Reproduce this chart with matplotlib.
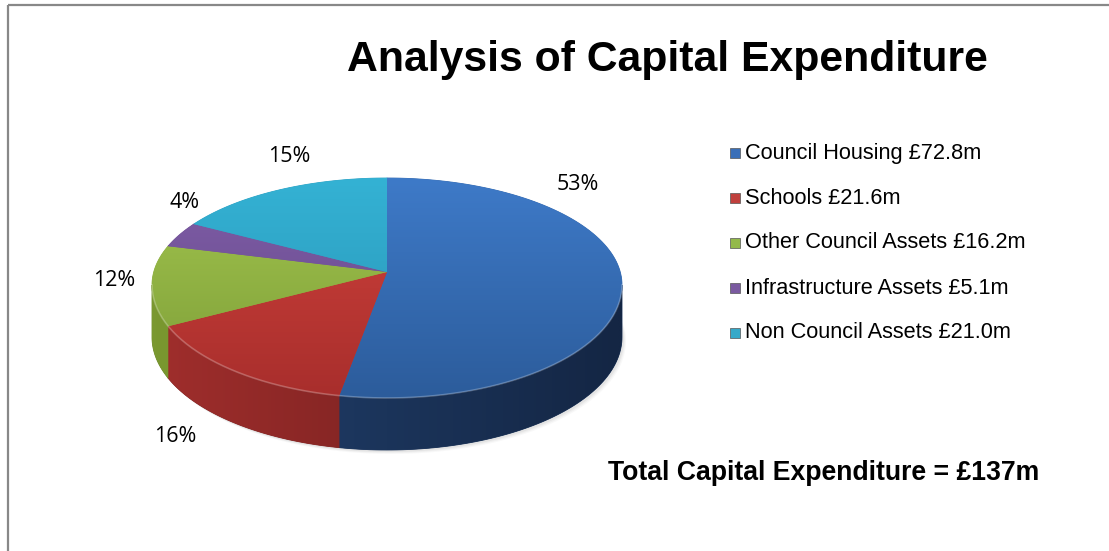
import numpy as np
import matplotlib.pyplot as plt
from matplotlib.patches import Polygon, Rectangle

# Chart data
categories = ['Council Housing', 'Schools', 'Other Council Assets',
              'Infrastructure Assets', 'Non Council Assets']
values = [72.8, 21.6, 16.2, 5.1, 21.0]
value_labels = ['£72.8m', '£21.6m', '£16.2m', '£5.1m', '£21.0m']
title = 'Analysis of Capital Expenditure'
total_text = 'Total Capital Expenditure = £137m'

# Excel-like 3D colours: top face (upper, lower) and side wall (left, right)
top_colors = [((62, 122, 200), (44, 92, 155)),
              ((208, 66, 60), (168, 46, 44)),
              ((162, 197, 78), (124, 156, 55)),
              ((128, 94, 168), (98, 70, 134)),
              ((52, 178, 212), (40, 146, 180))]
side_colors = [((34, 66, 112), (20, 38, 68)),
               ((160, 46, 44), (98, 26, 26)),
               ((122, 152, 48), (100, 126, 40)),
               ((98, 70, 134), (70, 50, 100)),
               ((40, 146, 180), (28, 110, 140))]
legend_colors = ['#3a6fb8', '#c0403d', '#93b94a', '#7a5aa0', '#35a9c9']

# Geometry of the pie in pixel units
CX, CY = 387, 285
A = 235
B_TOP, B_BOT = 107, 113
VX, VY = 387, 272
DEPTH = 52
X0, X1 = CX - A, CX + A

# label positions (pixel) for the percentage labels
pct_pos = [(578, 185), (175, 437), (114, 280), (185, 202), (289, 157)]


def rgb(c):
    return np.array(c, dtype=float) / 255.0


def rim(t_deg, drop=0.0):
    t = np.radians(t_deg)
    b = np.where(np.sin(t) > 0, B_TOP, B_BOT)
    return CX + A * np.cos(t), CY - b * np.sin(t) + drop


def gradient_fill(ax, verts, c0, c1, direction, extent):
    mid = (rgb(c0) + rgb(c1)) / 2
    patch = Polygon(verts, closed=True, facecolor=mid, edgecolor=mid, lw=0.6, zorder=2)
    ax.add_patch(patch)
    n = 64
    f = np.linspace(0, 1, n)[:, None]
    grad = rgb(c0)[None, :] * (1 - f) + rgb(c1)[None, :] * f
    if direction == 'v':
        img = grad[:, None, :]
    else:
        img = grad[None, :, :]
    im = ax.imshow(img, extent=extent, origin='upper', aspect='auto',
                   interpolation='bilinear', zorder=3)
    im.set_clip_path(patch)


fig = plt.figure(figsize=(11.09, 5.51), dpi=100)
ax = fig.add_axes([0, 0, 1, 1])

total = sum(values)
fracs = np.array(values) / total
starts = 90 - 360 * np.concatenate([[0], np.cumsum(fracs)[:-1]])
ends = starts - 360 * fracs

# soft shadow under the pie
for k, alpha in enumerate([0.05, 0.07, 0.1]):
    xs, ys = rim(np.linspace(-180, 180, 200), drop=DEPTH + 4 - k)
    ax.add_patch(Polygon(np.column_stack([xs + 4 - k, ys]), closed=True,
                         facecolor='gray', edgecolor='none', alpha=alpha, zorder=1))

# side walls on the front half
for i in range(len(values)):
    hi = min(starts[i], 0)
    lo = max(ends[i], -180)
    if lo >= hi:
        continue
    t = np.linspace(hi, lo, 80)
    xt, yt = rim(t)
    xb, yb = rim(t[::-1], drop=DEPTH)
    verts = np.column_stack([np.concatenate([xt, xb]), np.concatenate([yt, yb])])
    gradient_fill(ax, verts, side_colors[i][0], side_colors[i][1], 'h',
                  (X0, X1, CY + B_BOT + DEPTH + 2, CY - 2))

# top faces
for i in range(len(values)):
    t = np.linspace(starts[i], ends[i], 120)
    xs, ys = rim(t)
    verts = np.column_stack([np.concatenate([[VX], xs]), np.concatenate([[VY], ys])])
    gradient_fill(ax, verts, top_colors[i][0], top_colors[i][1], 'v',
                  (X0, X1, CY + B_BOT + 1, CY - B_TOP - 1))

# light bevel along the front rim
t = np.linspace(-180, 0, 150)
xs, ys = rim(t)
ax.plot(xs, ys, color='white', alpha=0.25, lw=1.2, zorder=4)

# percentage labels
for i, (x, y) in enumerate(pct_pos):
    ax.text(x, y, f'{round(fracs[i] * 100):.0f}%', fontsize=15.5, family='Open Sans',
            ha='center', va='center', color='black', zorder=5)

# legend
row_y = [153, 198, 243, 288, 333]
for i, name in enumerate(categories):
    ax.add_patch(Rectangle((730, row_y[i] - 5), 10, 10, facecolor=legend_colors[i],
                           edgecolor='#555555', lw=0.5, zorder=5))
    ax.text(745, row_y[i], f'{name} {value_labels[i]}', fontsize=15.7,
            family='Liberation Sans', ha='left', va='center', zorder=5)

ax.text(667, 60, title, fontsize=30.8, fontweight='bold', family='Liberation Sans',
        ha='center', va='center')
ax.text(824, 473, total_text, fontsize=19.2, fontweight='bold', family='Liberation Sans',
        ha='center', va='center')

# chart frame (top and left edges visible)
ax.plot([8, 1109], [4.5, 4.5], color='#888888', lw=1.6, solid_capstyle='butt')
ax.plot([8, 8], [4.5, 551], color='#888888', lw=1.6, solid_capstyle='butt')

ax.set_xlim(0, 1109)
ax.set_ylim(551, 0)
ax.axis('off')
plt.savefig('out.png', dpi=100)
